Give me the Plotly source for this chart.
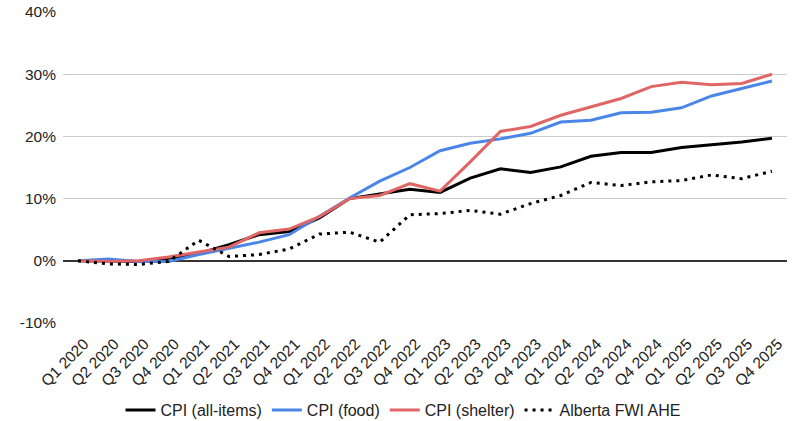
import plotly.graph_objects as go

quarters = [
    f"Q{q} {y}" for y in range(2020, 2026) for q in range(1, 5)
]

cpi_all = [0.0, -0.1, -0.1, 0.4, 1.2, 2.6, 4.2, 4.7, 6.9, 10.0, 10.8, 11.5,
           11.0, 13.3, 14.8, 14.2, 15.1, 16.8, 17.4, 17.4, 18.2, 18.6, 19.1, 19.7]
cpi_food = [0.0, 0.3, -0.1, -0.1, 1.0, 2.0, 3.0, 4.2, 7.1, 10.1, 12.8, 15.0,
            17.7, 18.9, 19.6, 20.5, 22.3, 22.6, 23.8, 23.9, 24.6, 26.5, 27.7, 28.9]
cpi_shelter = [0.0, -0.1, 0.0, 0.6, 1.4, 2.2, 4.5, 5.1, 7.1, 10.0, 10.5, 12.4,
               11.2, 15.9, 20.8, 21.6, 23.4, 24.8, 26.1, 28.0, 28.7, 28.3, 28.5, 30.0]
alberta_ahe = [0.0, -0.5, -0.6, -0.1, 3.3, 0.7, 1.0, 1.9, 4.3, 4.6, 3.0, 7.4,
               7.6, 8.1, 7.5, 9.2, 10.5, 12.6, 12.1, 12.7, 12.9, 13.8, 13.2, 14.4]

y_ticks = [-10, 0, 10, 20, 30, 40]
y_labels = ["-10%", "0%", "10%", "20%", "30%", "40%"]

series = [
    ("CPI (all-items)", cpi_all, "#000000", "solid"),
    ("CPI (food)", cpi_food, "#4a86e8", "solid"),
    ("CPI (shelter)", cpi_shelter, "#e06666", "solid"),
    ("Alberta FWI AHE", alberta_ahe, "#000000", "3px,5px"),
]

fig = go.Figure()
for name, values, color, dash in series:
    fig.add_trace(
        go.Scatter(
            x=quarters,
            y=values,
            name=name,
            mode="lines",
            line={"color": color, "width": 3, "dash": dash},
        )
    )

fig.update_layout(
    width=798,
    height=421,
    margin={"l": 63, "r": 11, "t": 12, "b": 98, "autoexpand": False},
    paper_bgcolor="white",
    plot_bgcolor="white",
    font={"family": "Liberation Sans, Arial, sans-serif", "size": 15.5, "color": "#222222"},
    legend={
        "orientation": "h",
        "xref": "container",
        "x": 0.505,
        "xanchor": "center",
        "yref": "container",
        "y": 0.026,
        "yanchor": "middle",
        "font": {"size": 16},
    },
)
fig.update_xaxes(
    type="category",
    tickangle=-45,
    showgrid=False,
    showline=False,
    ticks="",
    range=[-0.5, 23.5],
    ticklabelstandoff=8,
    ticklabelshift=6,
    automargin=False,
)
fig.update_yaxes(
    range=[-10, 40],
    tickvals=y_ticks,
    ticktext=y_labels,
    gridcolor="#cccccc",
    zeroline=True,
    zerolinecolor="#333333",
    zerolinewidth=1.5,
    ticks="",
    ticklabelstandoff=6,
    automargin=False,
)

fig.write_html(
    "out.html",
    config={"displayModeBar": False},
    post_script="document.body.style.margin = '0';",
)
